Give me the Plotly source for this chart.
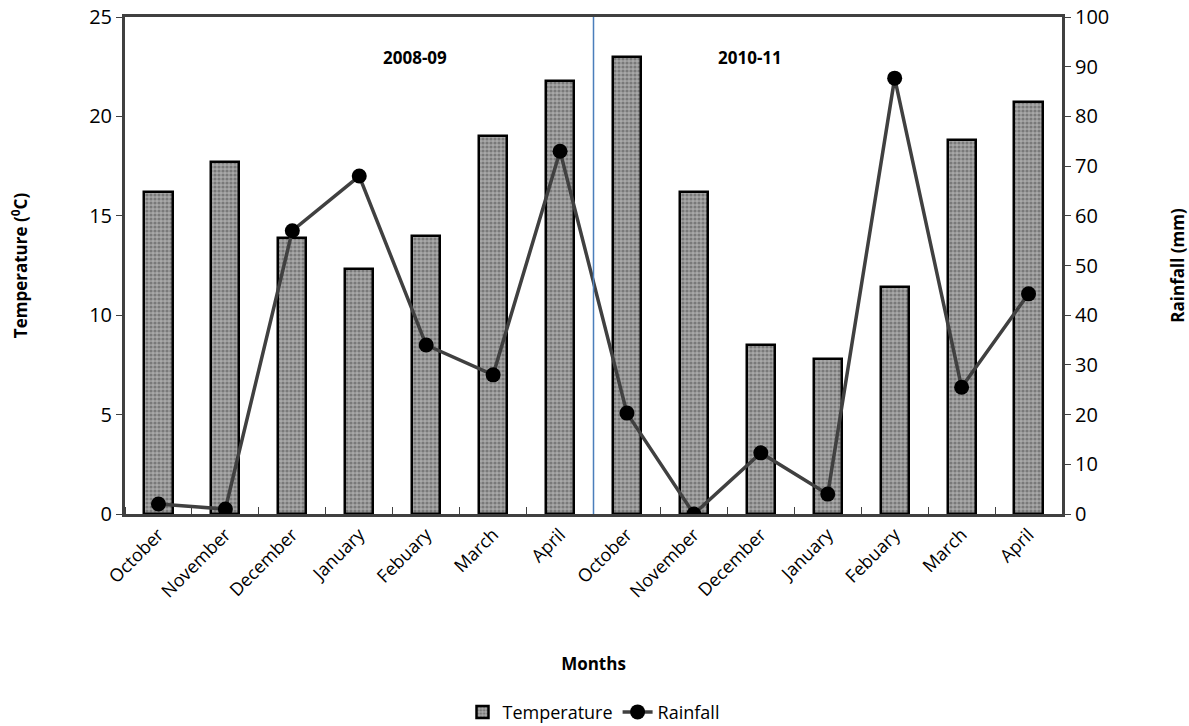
import plotly.graph_objects as go

months = ["October", "November", "December", "January", "Febuary", "March", "April",
          "October", "November", "December", "January", "Febuary", "March", "April"]
temperature = [16.2, 17.7, 13.9, 12.3, 14.0, 19.0, 21.8, 23.0, 16.2, 8.5, 7.8, 11.4, 18.8, 20.7]
rainfall = [2, 1, 57, 68, 34, 28, 73, 20.3, 0, 12.3, 4, 87.7, 25.5, 44.3]
seasons = ["2008-09", "2010-11"]
season_x = [3.83, 8.84]

x = list(range(len(months)))
font = "Open Sans, Liberation Sans, sans-serif"

fig = go.Figure()
fig.add_trace(go.Bar(
    x=x, y=temperature, name="Temperature", width=0.42,
    marker=dict(color="#a8a8a8", line=dict(color="black", width=2.5),
                pattern=dict(shape=".", fgcolor="#4a4a4a", size=4, solidity=0.5)),
))
fig.add_trace(go.Scatter(
    x=x, y=rainfall, name="Rainfall", yaxis="y2", mode="lines+markers",
    line=dict(color="#404040", width=3.5),
    marker=dict(color="black", size=15),
))

fig.add_shape(type="line", xref="x", yref="paper", x0=6.5, x1=6.5, y0=0, y1=1,
              line=dict(color="#4a7ebb", width=1.5))
for s, sx in zip(seasons, season_x):
    fig.add_annotation(x=sx, y=0.946, xref="x", yref="paper", text="<b>%s</b>" % s,
                       showarrow=False, font=dict(family=font, size=17, color="black"))

fig.update_layout(
    width=1189, height=726,
    margin=dict(l=125, r=127, t=17, b=212),
    plot_bgcolor="white", paper_bgcolor="white",
    font=dict(family=font, size=17, color="black"),
    showlegend=True,
    legend=dict(orientation="h", x=0.5, xanchor="center", yref="container", y=0.019,
                yanchor="middle", font=dict(size=18), traceorder="normal"),
    bargap=0,
    xaxis=dict(
        automargin=False,
        range=[-0.5, 13.5], tickmode="array", tickvals=x, ticktext=months,
        tickangle=-45, ticks="", showgrid=False, zeroline=False,
        showline=True, linecolor="#404040", linewidth=3, mirror=True,
        tickfont=dict(size=18),
        minor=dict(ticks="inside", tick0=-0.5, dtick=1, ticklen=7, tickcolor="#404040", tickwidth=1),
        title=dict(text="<b>Months</b>", font=dict(size=17), standoff=57),
    ),
    yaxis=dict(
        automargin=False,
        range=[0, 25], dtick=5, ticks="outside", ticklen=6, tickcolor="#404040",
        showgrid=False, zeroline=False, showline=True, linecolor="#404040", linewidth=3,
        tickfont=dict(size=20),
        title=dict(text="<b>Temperature (<sup>0</sup>C)</b>", font=dict(size=17), standoff=58),
    ),
    yaxis2=dict(
        automargin=False,
        range=[0, 100], dtick=10, overlaying="y", side="right",
        ticks="outside", ticklen=6, tickcolor="#404040",
        showgrid=False, zeroline=False, showline=True, linecolor="#404040", linewidth=3,
        tickfont=dict(size=20),
        title=dict(text="<b>Rainfall (mm)</b>", font=dict(size=17), standoff=64),
    ),
)

fig.write_html("out.html", config={"displayModeBar": False},
               post_script="document.body.style.margin='0';")
